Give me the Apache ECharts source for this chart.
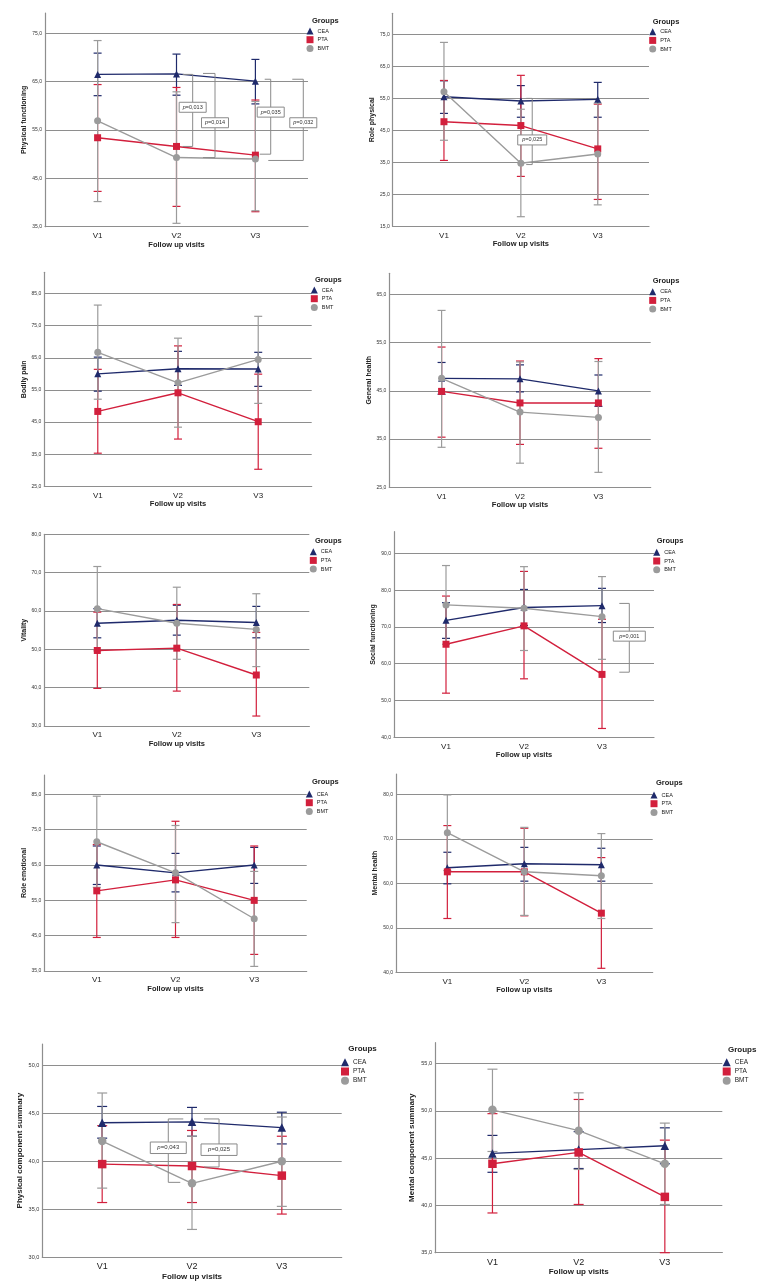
<!DOCTYPE html>
<html><head><meta charset="utf-8">
<script src="https://cdn.jsdelivr.net/npm/echarts@6/dist/echarts.min.js"></script>
<style>html,body{margin:0;padding:0;background:#fff}#c{width:760px;height:1285px}</style>
</head><body><div id="c"></div>
<script>
// ---------------- DATA ----------------
const categories = ['V1', 'V2', 'V3'];
const groupNames = ['CEA', 'PTA', 'BMT'];
const xAxisTitle = 'Follow up visits';
const legendTitle = 'Groups';
const panelTitles = ['Physical functioning', 'Role physical', 'Bodily pain', 'General health', 'Vitality',
  'Social functioning', 'Role emotional', 'Mental health', 'Physical component summary', 'Mental component summary'];

// y-axis tick labels and axis tops
const pfTicks = [35, 45, 55, 65, 75];
const rpTicks = [15, 25, 35, 45, 55, 65, 75];
const bpTicks = [25, 35, 45, 55, 65, 75, 85];
const ghTicks = [25, 35, 45, 55, 65];
const vtTicks = [30, 40, 50, 60, 70, 80];
const sfTicks = [40, 50, 60, 70, 80, 90];
const reTicks = [35, 45, 55, 65, 75, 85];
const mhTicks = [40, 50, 60, 70, 80];
const pcsTicks = [30, 35, 40, 45, 50];
const mcsTicks = [35, 40, 45, 50, 55];
const axisMax = [79.2, 81.6, 91.6, 69.4, 80, 95.9, 90.5, 84.6, 52.2, 57.2];

// Physical functioning
const pfCEA = [66.5, 66.6, 65.1], pfCEALo = [62.1, 62.2, 60.4], pfCEAHi = [70.9, 70.7, 69.6];
const pfPTA = [53.4, 51.6, 49.8], pfPTALo = [42.3, 39.2, 38.1], pfPTAHi = [64.4, 63.8, 61.2];
const pfBMT = [56.9, 49.3, 49.0], pfBMTLo = [40.2, 35.7, 38.3], pfBMTHi = [73.5, 62.9, 60.9];
// Role physical
const rpCEA = [55.5, 54.2, 54.7], rpCEALo = [50.3, 49.1, 49.1], rpCEAHi = [60.5, 59.0, 60.0];
const rpPTA = [47.7, 46.5, 39.2], rpPTALo = [35.6, 30.6, 23.4], rpPTAHi = [60.6, 62.2, 53.2];
const rpBMT = [57.1, 34.7, 37.6], rpBMTLo = [41.9, 18.0, 21.7], rpBMTHi = [72.5, 51.6, 53.5];
// Bodily pain
const bpCEA = [60.0, 61.6, 61.5], bpCEALo = [54.6, 56.4, 56.1], bpCEAHi = [65.2, 67.0, 66.7];
const bpPTA = [48.3, 54.1, 45.1], bpPTALo = [35.3, 39.7, 30.3], bpPTAHi = [61.4, 68.7, 59.9];
const bpBMT = [66.7, 57.2, 64.5], bpBMTLo = [52.1, 43.4, 50.8], bpBMTHi = [81.4, 71.1, 77.9];
// General health
const ghCEA = [47.6, 47.5, 45.0], ghCEALo = [44.3, 44.8, 41.8], ghCEAHi = [50.9, 50.4, 48.3];
const ghPTA = [44.9, 42.5, 42.5], ghPTALo = [35.4, 33.9, 33.1], ghPTAHi = [54.1, 51.2, 51.7];
const ghBMT = [47.6, 40.6, 39.5], ghBMTLo = [33.3, 30.0, 28.1], ghBMTHi = [61.7, 51.0, 51.1];
// Vitality
const vtCEA = [56.8, 57.6, 57.0], vtCEALo = [53.0, 53.7, 53.0], vtCEAHi = [60.6, 61.5, 61.2];
const vtPTA = [49.7, 50.3, 43.3], vtPTALo = [39.8, 39.1, 32.6], vtPTAHi = [59.7, 61.7, 54.4];
const vtBMT = [60.6, 56.8, 55.2], vtBMTLo = [49.6, 47.4, 45.5], vtBMTHi = [71.6, 66.2, 64.5];
// Social functioning
const sfCEA = [71.8, 75.3, 75.8], sfCEALo = [66.9, 70.4, 71.2], sfCEAHi = [76.6, 80.2, 80.5];
const sfPTA = [65.3, 70.3, 57.1], sfPTALo = [52.0, 55.9, 42.4], sfPTAHi = [78.4, 85.1, 72.1];
const sfBMT = [76.0, 75.1, 72.8], sfBMTLo = [65.3, 63.6, 61.2], sfBMTHi = [86.7, 86.4, 83.7];
// Role emotional
const reCEA = [65.0, 62.8, 65.0], reCEALo = [59.5, 57.4, 59.8], reCEAHi = [70.4, 68.3, 70.0];
const rePTA = [57.7, 60.8, 55.0], rePTALo = [44.5, 44.5, 39.7], rePTAHi = [70.8, 77.4, 70.4];
const reBMT = [71.6, 62.8, 49.8], reBMTLo = [58.7, 48.7, 36.3], reBMTHi = [84.5, 76.2, 63.2];
// Mental health
const mhCEA = [63.5, 64.4, 64.2], mhCEALo = [59.9, 60.5, 60.5], mhCEAHi = [67.0, 68.1, 67.9];
const mhPTA = [62.6, 62.6, 53.3], mhPTALo = [52.1, 52.7, 40.9], mhPTAHi = [73.0, 72.4, 65.8];
const mhBMT = [71.4, 62.6, 61.7], mhBMTLo = [62.9, 52.8, 52.1], mhBMTHi = [79.9, 72.6, 71.2];
// Physical component summary
const pcsCEA = [44.0, 44.1, 43.5], pcsCEALo = [42.4, 42.6, 41.8], pcsCEAHi = [45.7, 45.6, 45.1];
const pcsPTA = [39.7, 39.5, 38.5], pcsPTALo = [35.7, 35.7, 34.5], pcsPTAHi = [43.7, 43.2, 42.6];
const pcsBMT = [42.1, 37.7, 40.0], pcsBMTLo = [37.2, 32.9, 35.3], pcsBMTHi = [47.1, 42.6, 44.6];
// Mental component summary
const mcsCEA = [45.5, 45.9, 46.3], mcsCEALo = [43.5, 43.9, 44.4], mcsCEAHi = [47.4, 47.8, 48.2];
const mcsPTA = [44.4, 45.6, 40.9], mcsPTALo = [39.2, 40.1, 35.0], mcsPTAHi = [49.7, 51.2, 46.9];
const mcsBMT = [50.1, 47.9, 44.4], mcsBMTLo = [45.7, 43.8, 40.1], mcsBMTHi = [54.4, 51.9, 48.7];

// significance brackets (x position on visit scale, top / bottom / label level, p value)
const pfBrX = [2.205, 2.488, 3.194, 3.607], pfBrTop = [66.5, 66.7, 65.5, 65.5], pfBrBot = [51.6, 49.3, 50.0, 48.7];
const pfBrLabelY = [59.7, 56.5, 58.7, 56.5], pfBrP = ['0,013', '0,014', '0,035', '0,032'];
const rpBrX = [2.148], rpBrTop = [55.0], rpBrBot = [34.3], rpBrLabelY = [42.0], rpBrP = ['0,025'];
const sfBrX = [3.35], sfBrTop = [76.4], sfBrBot = [57.7], sfBrLabelY = [67.5], sfBrP = ['0,001'];
const pcsBrX = [1.736, 2.301], pcsBrTop = [44.4, 44.4], pcsBrBot = [37.8, 39.4], pcsBrLabelY = [41.4, 41.2], pcsBrP = ['0,043', '0,025'];

const panels = [
  { ticks: pfTicks, mean: [pfCEA, pfPTA, pfBMT], lo: [pfCEALo, pfPTALo, pfBMTLo], hi: [pfCEAHi, pfPTAHi, pfBMTHi],
    br: { x: pfBrX, top: pfBrTop, bot: pfBrBot, ly: pfBrLabelY, p: pfBrP } },
  { ticks: rpTicks, mean: [rpCEA, rpPTA, rpBMT], lo: [rpCEALo, rpPTALo, rpBMTLo], hi: [rpCEAHi, rpPTAHi, rpBMTHi],
    br: { x: rpBrX, top: rpBrTop, bot: rpBrBot, ly: rpBrLabelY, p: rpBrP } },
  { ticks: bpTicks, mean: [bpCEA, bpPTA, bpBMT], lo: [bpCEALo, bpPTALo, bpBMTLo], hi: [bpCEAHi, bpPTAHi, bpBMTHi] },
  { ticks: ghTicks, mean: [ghCEA, ghPTA, ghBMT], lo: [ghCEALo, ghPTALo, ghBMTLo], hi: [ghCEAHi, ghPTAHi, ghBMTHi] },
  { ticks: vtTicks, mean: [vtCEA, vtPTA, vtBMT], lo: [vtCEALo, vtPTALo, vtBMTLo], hi: [vtCEAHi, vtPTAHi, vtBMTHi] },
  { ticks: sfTicks, mean: [sfCEA, sfPTA, sfBMT], lo: [sfCEALo, sfPTALo, sfBMTLo], hi: [sfCEAHi, sfPTAHi, sfBMTHi],
    br: { x: sfBrX, top: sfBrTop, bot: sfBrBot, ly: sfBrLabelY, p: sfBrP } },
  { ticks: reTicks, mean: [reCEA, rePTA, reBMT], lo: [reCEALo, rePTALo, reBMTLo], hi: [reCEAHi, rePTAHi, reBMTHi] },
  { ticks: mhTicks, mean: [mhCEA, mhPTA, mhBMT], lo: [mhCEALo, mhPTALo, mhBMTLo], hi: [mhCEAHi, mhPTAHi, mhBMTHi] },
  { ticks: pcsTicks, mean: [pcsCEA, pcsPTA, pcsBMT], lo: [pcsCEALo, pcsPTALo, pcsBMTLo], hi: [pcsCEAHi, pcsPTAHi, pcsBMTHi],
    br: { x: pcsBrX, top: pcsBrTop, bot: pcsBrBot, ly: pcsBrLabelY, p: pcsBrP } },
  { ticks: mcsTicks, mean: [mcsCEA, mcsPTA, mcsBMT], lo: [mcsCEALo, mcsPTALo, mcsBMTLo], hi: [mcsCEAHi, mcsPTAHi, mcsBMTHi] }
];

// ---------------- LAYOUT / STYLE ----------------
const layout = [
  { l: 45, t: 13, r: 308, b: 226.7, lx: 306.5, ly: 27.5, gx: 312, gy: 16.8, armT: [-10, -12, -6, -11], armB: [-10, -12, -11, -35], boxW: 27 },
  { l: 392.7, t: 13.3, r: 649, b: 226.3, lx: 649.2, ly: 28.2, gx: 652.7, gy: 17.8, armT: [-6], armB: [-6], boxW: 29 },
  { l: 44.3, t: 272.3, r: 311.7, b: 486.3, lx: 310.8, ly: 286.5, gx: 315, gy: 275.5 },
  { l: 389.3, t: 273.3, r: 650.7, b: 487.3, lx: 649.2, ly: 288.2, gx: 652.7, gy: 276.5 },
  { l: 44.3, t: 534.3, r: 309.3, b: 726, lx: 309.8, ly: 548.2, gx: 315, gy: 536.5 },
  { l: 394, t: 531.7, r: 654, b: 737.3, lx: 653.2, ly: 548.8, gx: 656.7, gy: 537.2, armT: [-10], armB: [-10], boxW: 32 },
  { l: 44.3, t: 775, r: 306.7, b: 971, lx: 305.8, ly: 790.5, gx: 312, gy: 778.2 },
  { l: 396, t: 774, r: 652.7, b: 972.3, lx: 650.5, ly: 791.5, gx: 656, gy: 778.8 },
  { l: 42.3, t: 1044, r: 341.7, b: 1257.3, lx: 341, ly: 1058.3, gx: 348.3, gy: 1044.5, big: true, armT: [15, -15], armB: [12, -15], boxW: 36 },
  { l: 435, t: 1042.7, r: 722.3, b: 1252.7, lx: 722.7, ly: 1058.3, gx: 728, gy: 1045.3, big: true }
];
const smallStyle = { tick: 5, cat: 8, yname: 7, xname: 7.5, ygap: 17, xgap: 14, legend: 5.5, groups: 7.5, sym: 7, cap: 4, iconH: 7, iconGap: 1.7, boxH: 10, boxFont: 5.5 };
const bigStyle = { tick: 5.5, cat: 9, yname: 8, xname: 8, ygap: 19, xgap: 15, legend: 6.5, groups: 8, sym: 8.5, cap: 5, iconH: 8, iconGap: 1.2, boxH: 11.5, boxFont: 6 };
const colors = ['#1f2a6b', '#d21f3c', '#9b9b9b'];
const symbols = ['triangle', 'rect', 'circle'];
const FONT = 'Liberation Sans';
const gridColor = '#8e8e8e';
const fmt = v => v.toFixed(1).replace('.', ',');

function errRender(cap) {
  return function (params, api) {
    const x = api.value(0);
    const p1 = api.coord([x, api.value(2)]);
    const p2 = api.coord([x, api.value(1)]);
    const st = { stroke: api.visual('color'), lineWidth: 1.2 };
    return { type: 'group', children: [
      { type: 'line', shape: { x1: p1[0], y1: p1[1], x2: p2[0], y2: p2[1] }, style: st },
      { type: 'line', shape: { x1: p1[0] - cap, y1: p1[1], x2: p1[0] + cap, y2: p1[1] }, style: st },
      { type: 'line', shape: { x1: p2[0] - cap, y1: p2[1], x2: p2[0] + cap, y2: p2[1] }, style: st }
    ] };
  };
}

function bracketRender(br, L, S) {
  return function (params, api) {
    const j = params.dataIndex;
    const x = api.value(0);
    const pt = api.coord([x, api.value(1)]);
    const pb = api.coord([x, api.value(2)]);
    const pl = api.coord([x, api.value(3)]);
    const ls = { stroke: '#8a8a8a', lineWidth: 1 };
    return { type: 'group', children: [
      { type: 'line', shape: { x1: pt[0], y1: pt[1], x2: pb[0], y2: pb[1] }, style: ls },
      { type: 'line', shape: { x1: pt[0], y1: pt[1], x2: pt[0] + L.armT[j], y2: pt[1] }, style: ls },
      { type: 'line', shape: { x1: pb[0], y1: pb[1], x2: pb[0] + L.armB[j], y2: pb[1] }, style: ls },
      { type: 'rect', shape: { x: pl[0] - L.boxW / 2, y: pl[1] - S.boxH / 2, width: L.boxW, height: S.boxH },
        style: { fill: '#fff', stroke: '#8a8a8a', lineWidth: 1 } },
      { type: 'text', x: pl[0], y: pl[1], style: { text: '{i|p}=' + br.p[j], align: 'center', verticalAlign: 'middle',
        fontSize: S.boxFont, fontFamily: FONT, fill: '#333',
        rich: { i: { fontStyle: 'italic', fontSize: S.boxFont, fontFamily: FONT, fill: '#333' } } } }
    ] };
  };
}

const grid = [], xAxis = [], yAxis = [], series = [], legend = [], title = [];
panels.forEach((p, i) => {
  const L = layout[i];
  const S = L.big ? bigStyle : smallStyle;
  grid.push({ left: L.l, top: L.t, width: L.r - L.l, height: L.b - L.t });
  xAxis.push({
    type: 'value', gridIndex: i, min: 1 / 3, max: 11 / 3,
    name: xAxisTitle, nameLocation: 'middle', nameGap: S.xgap,
    nameTextStyle: { fontFamily: FONT, fontWeight: 'bold', fontSize: S.xname, color: '#222' },
    axisLine: { show: true, onZero: false, lineStyle: { color: gridColor, width: 1.2 } },
    axisTick: { show: false, customValues: [1, 2, 3] },
    axisLabel: { customValues: [1, 2, 3], formatter: v => categories[Math.round(v) - 1], fontFamily: FONT, fontSize: S.cat, color: '#222', margin: 5 },
    splitLine: { show: false }
  });
  yAxis.push({
    type: 'value', gridIndex: i, min: p.ticks[0], max: axisMax[i],
    name: panelTitles[i], nameLocation: 'middle', nameGap: S.ygap,
    nameTextStyle: { fontFamily: FONT, fontWeight: 'bold', fontSize: S.yname, color: '#222' },
    axisLine: { show: true, onZero: false, lineStyle: { color: gridColor, width: 1.2 } },
    axisTick: { show: false, customValues: p.ticks },
    axisLabel: { customValues: p.ticks, formatter: fmt, fontFamily: FONT, fontSize: S.tick, color: '#333', margin: 3 },
    splitLine: { show: true, lineStyle: { color: gridColor, width: 1.2 } }
  });
  groupNames.forEach((g, k) => {
    series.push({
      type: 'custom', name: g, xAxisIndex: i, yAxisIndex: i, renderItem: errRender(S.cap), silent: true,
      itemStyle: { color: colors[k] }, encode: { x: 0, y: [1, 2] }, z: 2,
      data: categories.map((c, j) => [j + 1, p.lo[k][j], p.hi[k][j]])
    });
  });
  groupNames.forEach((g, k) => {
    series.push({
      type: 'line', name: g, xAxisIndex: i, yAxisIndex: i, symbol: symbols[k], symbolSize: S.sym,
      itemStyle: { color: colors[k] }, lineStyle: { color: colors[k], width: 1.4 }, z: 3,
      data: categories.map((c, j) => [j + 1, p.mean[k][j]])
    });
  });
  if (p.br) {
    series.push({
      type: 'custom', xAxisIndex: i, yAxisIndex: i, renderItem: bracketRender(p.br, L, S), silent: true, z: 4,
      encode: { x: 0, y: [1, 2, 3] },
      data: p.br.x.map((x, j) => [x, p.br.top[j], p.br.bot[j], p.br.ly[j]])
    });
  }
  legend.push({
    orient: 'vertical', left: L.lx, top: L.ly, padding: 0, itemWidth: S.iconH, itemHeight: S.iconH, itemGap: S.iconGap,
    selectedMode: false, textStyle: { fontFamily: FONT, fontSize: S.legend, color: '#222', padding: [0, 0, 0, -1] },
    data: groupNames.map((n, k) => ({ name: n, icon: symbols[k] }))
  });
  title.push({ text: legendTitle, left: L.gx, top: L.gy, padding: 0,
    textStyle: { fontFamily: FONT, fontWeight: 'bold', fontSize: S.groups, color: '#222' } });
});

const chart = echarts.init(document.getElementById('c'), null, { renderer: 'canvas' });
chart.setOption({
  backgroundColor: '#fff', animation: false,
  textStyle: { fontFamily: FONT },
  grid, xAxis, yAxis, series, legend, title
});
</script>
</body></html>
